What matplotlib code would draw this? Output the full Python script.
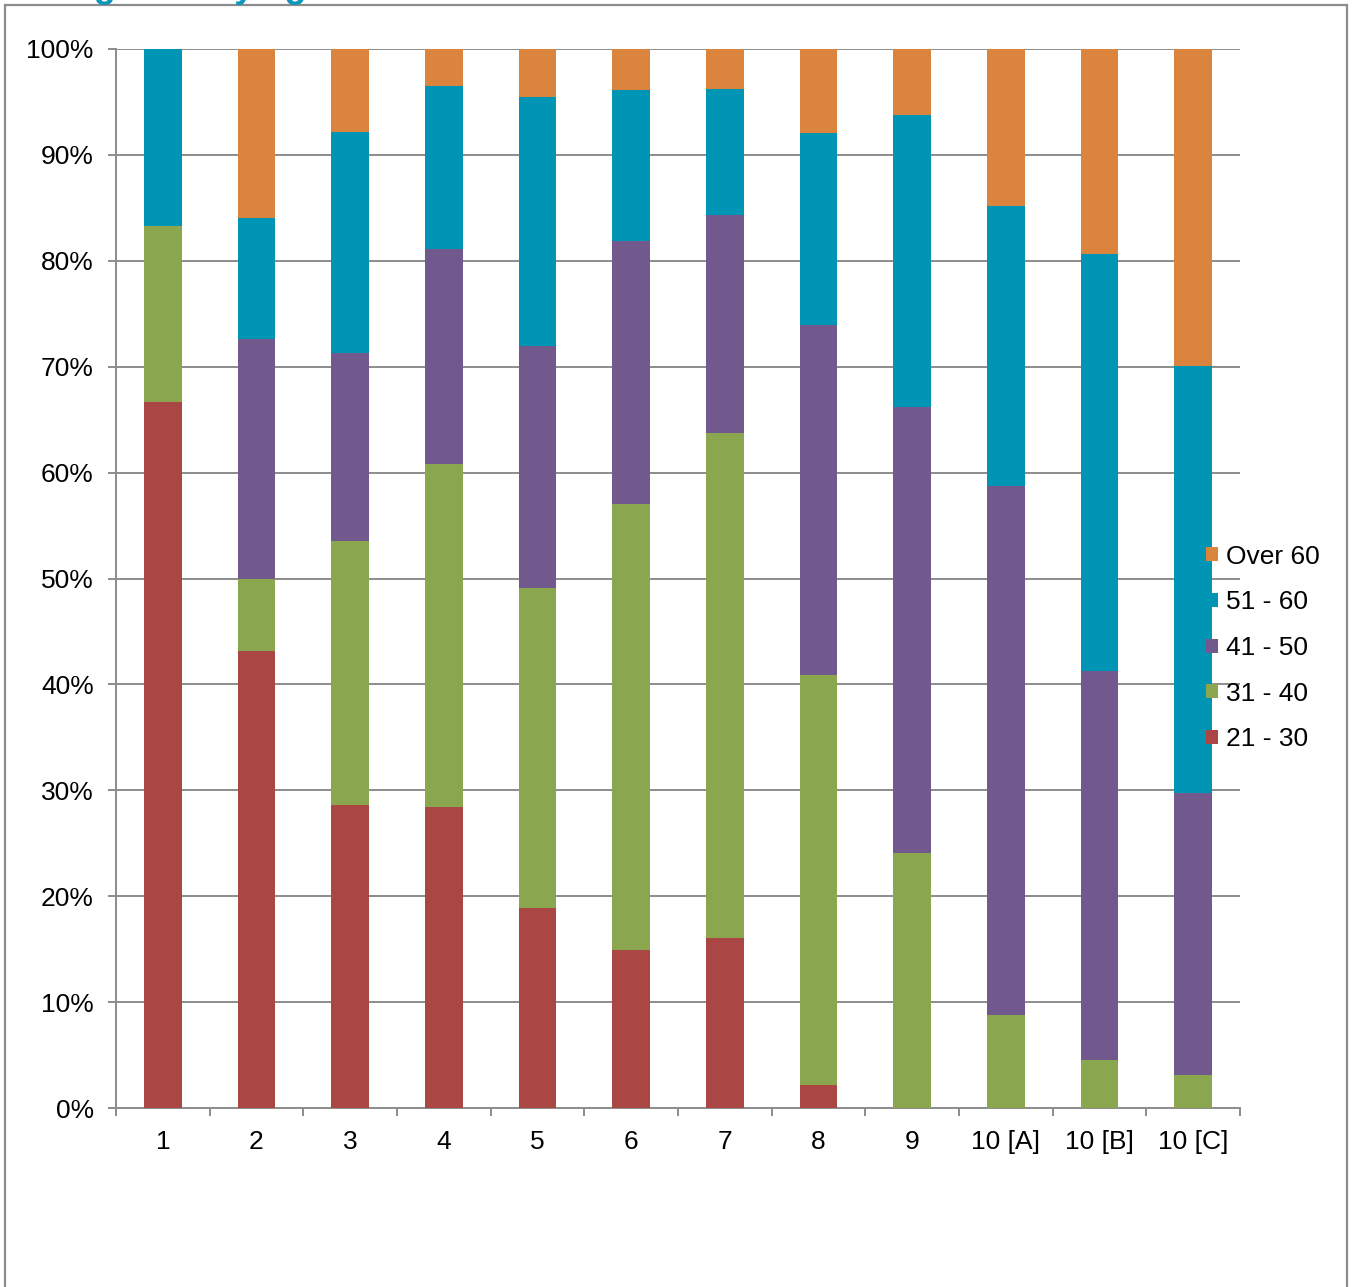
import numpy as np
import matplotlib as mplt
mplt.use("Agg")
import matplotlib.pyplot as plt
from matplotlib.patches import Rectangle
from matplotlib.ticker import PercentFormatter

# data (percent of each column)
categories = ["1", "2", "3", "4", "5", "6", "7", "8", "9", "10 [A]", "10 [B]", "10 [C]"]
age_21_30 = [66.7, 43.2, 28.6, 28.4, 18.9, 14.9, 16.1, 2.2, 0, 0, 0, 0]
age_31_40 = [16.6, 6.8, 24.9, 32.4, 30.2, 42.1, 47.6, 38.7, 24.1, 8.8, 4.5, 3.1]
age_41_50 = [0, 22.6, 17.8, 20.3, 22.9, 24.9, 20.6, 33.0, 42.1, 49.9, 36.8, 26.6]
age_51_60 = [16.7, 11.4, 20.9, 15.4, 23.5, 14.2, 11.9, 18.2, 27.6, 26.5, 39.3, 40.4]
age_over_60 = [0, 16.0, 7.8, 3.5, 4.5, 3.9, 3.8, 7.9, 6.2, 14.8, 19.4, 29.9]

series = [("21 - 30", age_21_30, "#AA4744"),
          ("31 - 40", age_31_40, "#8AA64E"),
          ("41 - 50", age_41_50, "#71598E"),
          ("51 - 60", age_51_60, "#0095B4"),
          ("Over 60", age_over_60, "#DB843D")]

plt.rcParams["font.family"] = ["Liberation Sans", "DejaVu Sans"]

W, H = 1353, 1287
fig = plt.figure(figsize=(W / 100, H / 100), dpi=100)
ax = fig.add_axes([116 / W, 1 - 1108 / H, (1240 - 116) / W, (1108 - 49) / H])

grey = "#8C8C8C"
x = np.arange(len(categories))
bottom = np.zeros(len(categories))
handles = []
for name, vals, col in series:
    vals = np.array(vals, dtype=float)
    b = ax.bar(x, vals, 0.4, bottom=bottom, color=col, label=name, zorder=3)
    handles.append(b)
    bottom += vals

ax.set_xlim(-0.5, len(categories) - 0.5)
ax.set_ylim(0, 100)
ax.set_yticks(np.arange(0, 101, 10))
ax.yaxis.set_major_formatter(PercentFormatter(decimals=0))
ax.grid(axis="y", color=grey, linewidth=1.4, zorder=0)

# category boundaries get the tick marks, centres get the labels
ax.set_xticks(np.arange(-0.5, len(categories), 1))
ax.set_xticklabels([])
ax.set_xticks(x, minor=True)
ax.set_xticklabels(categories, minor=True)
ax.tick_params(axis="x", which="major", length=6, width=1.4, color=grey, direction="out")
ax.tick_params(axis="x", which="minor", length=0, pad=16, labelsize=19)
ax.tick_params(axis="y", length=6, width=1.4, color=grey, pad=10, labelsize=19)

for s in ["top", "right"]:
    ax.spines[s].set_visible(False)
for s in ["left", "bottom"]:
    ax.spines[s].set_color(grey)
    ax.spines[s].set_linewidth(1.4)

# legend, top entry first
fig.legend(handles[::-1], [h.get_label() for h in handles[::-1]],
           loc="center left", bbox_to_anchor=(1206 / W, 1 - 648 / H),
           frameon=False, fontsize=19, handlelength=0.45, handleheight=0.45,
           handletextpad=0.3, labelspacing=0.82, borderpad=0, borderaxespad=0)

# chart frame (bottom edge runs off the picture)
fig.patches.append(Rectangle((5 / W, -0.05), (1347 - 5) / W, 1.05 - 5 / H,
                             transform=fig.transFigure, fill=False,
                             edgecolor=grey, linewidth=1.6))

# title, cut off by the top edge of the picture
fig.text(-40 / W, 1 + 3 / H, "Teaching staff by age", color="#0E95BA",
         fontsize=26, fontweight="bold", va="baseline", ha="left")

fig.savefig("out.png", dpi=100)
